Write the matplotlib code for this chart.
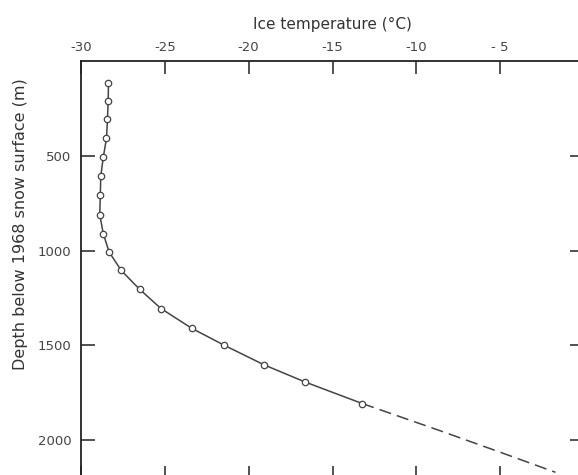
import matplotlib
matplotlib.use("Agg")
import matplotlib.pyplot as plt

# Measured ice temperatures (°C) and depths (m)
depth = [114, 209, 306, 408, 507, 607, 709, 811, 912, 1008, 1105, 1204,
         1306, 1411, 1500, 1603, 1693, 1807]
temp = [-28.36, -28.38, -28.42, -28.48, -28.67, -28.82, -28.85, -28.88,
        -28.67, -28.32, -27.60, -26.51, -25.23, -23.38, -21.45, -19.08,
        -16.65, -13.23]

# Extrapolated (dashed) portion
ext_temp = [-13.23, -8.6, -5.0, -1.7]
ext_depth = [1807, 1950, 2064, 2170]

xticks = [-30, -25, -20, -15, -10, -5]
xticklabels = ["-30", "-25", "-20", "-15", "-10", "- 5"]
yticks = [500, 1000, 1500, 2000]
yticklabels = ["500", "1000", "1500", "2000"]

W, H = 578, 475
fig = plt.figure(figsize=(W / 100, H / 100), dpi=100)
left, right, top, bottom = 81, 584, 61, 478
ax = fig.add_axes([left / W, 1 - bottom / H, (right - left) / W, (bottom - top) / H])

line_col = "#444444"
ax.plot(ext_temp, ext_depth, color=line_col, lw=1.1, ls=(0, (8, 4)), clip_on=False)
ax.plot(temp, depth, color=line_col, lw=1.1, marker="o", markersize=4.6,
        markerfacecolor="white", markeredgecolor=line_col, markeredgewidth=0.9)

ax.set_xlim(-30, 0)
ax.set_ylim(2200, 0)

ax.set_xticks(xticks)
ax.set_xticklabels(xticklabels)
ax.set_yticks(yticks)
ax.set_yticklabels(yticklabels)

ax.tick_params(axis="x", direction="in", length=9, width=1.1, top=True, bottom=True,
               labeltop=True, labelbottom=False, labelsize=9.5, labelcolor="#444444",
               pad=5, color="#222222")
ax.tick_params(axis="y", direction="in", length=10, width=1.1, left=True, right=True,
               labelleft=True, labelright=False, labelsize=9.5, labelcolor="#444444",
               pad=7, color="#222222")

for s in ax.spines.values():
    s.set_linewidth(1.3)
    s.set_color("#222222")

ax.xaxis.set_label_position("top")
ax.set_xlabel("Ice temperature (°C)", fontsize=11, color="#333333", labelpad=9)
ax.set_ylabel("Depth below 1968 snow surface (m)", fontsize=11.5, color="#333333")
ax.yaxis.set_label_coords(-0.105, 0.61)

fig.savefig("out.png", dpi=100)
